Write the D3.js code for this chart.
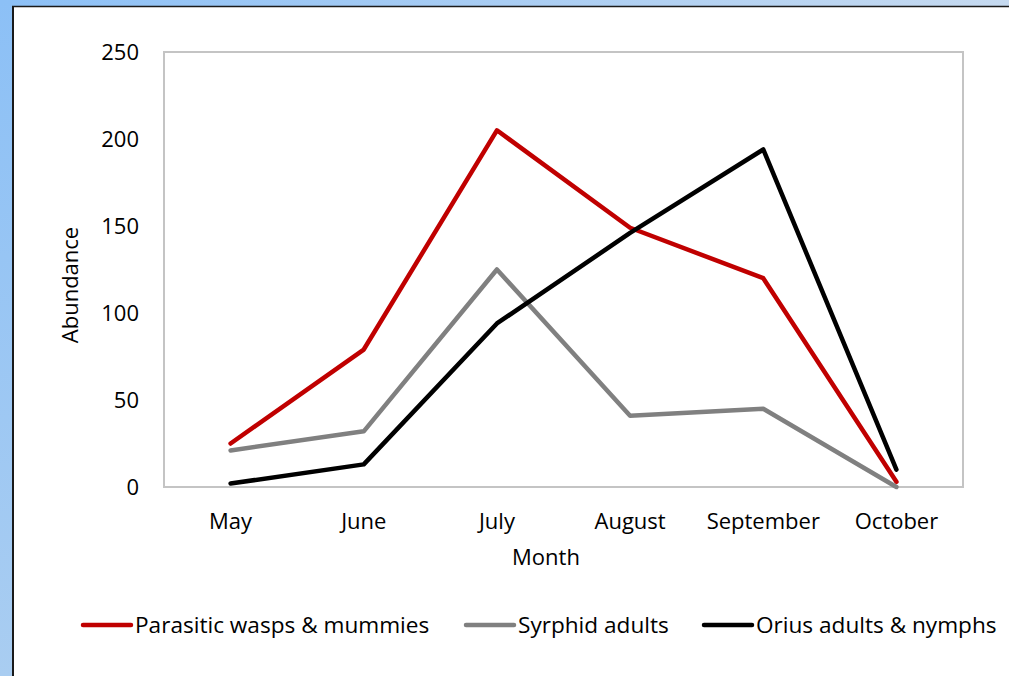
<!DOCTYPE html>
<html>
<head>
<meta charset="utf-8">
<script src="https://cdn.jsdelivr.net/npm/d3@7"></script>
<style>
  body { margin: 0; background: #fff; }
  text { font-family: "Open Sans", Lato, sans-serif; fill: #000; }
</style>
</head>
<body>
<div id="chart"></div>
<script>
// data
var months = ["May", "June", "July", "August", "September", "October"];
var wasps = [25, 79, 205, 149, 120, 3];
var syrphid = [21, 32, 125, 41, 45, 0];
var orius = [2, 13, 94, 146, 194, 10];
var yTicks = [0, 50, 100, 150, 200, 250];
var seriesNames = ["Parasitic wasps & mummies", "Syrphid adults", "Orius adults & nymphs"];
var seriesColors = ["#c00000", "#808080", "#000000"];

var W = 1009, H = 676;
var plot = {left: 164, top: 52, right: 963, bottom: 487};
var font = "'Open Sans', sans-serif";

var svg = d3.select("#chart")
  .append("svg")
    .attr("width", W)
    .attr("height", H);

// window frame (screenshot edges)
var defs = svg.append("defs");
var gl = defs.append("linearGradient").attr("id", "leftg")
  .attr("x1", 0).attr("y1", 0).attr("x2", 0).attr("y2", 1);
gl.append("stop").attr("offset", "0%").attr("stop-color", "#8cc0f6");
gl.append("stop").attr("offset", "100%").attr("stop-color", "#a9cdf1");
var gt = defs.append("linearGradient").attr("id", "topg")
  .attr("x1", 0).attr("y1", 0).attr("x2", 1).attr("y2", 0);
gt.append("stop").attr("offset", "0%").attr("stop-color", "#8cc0f6");
gt.append("stop").attr("offset", "100%").attr("stop-color", "#c6daf0");

svg.append("rect").attr("width", W).attr("height", H).attr("fill", "#fff");
svg.append("rect").attr("x", 0).attr("y", 0).attr("width", W).attr("height", 6).attr("fill", "url(#topg)");
svg.append("rect").attr("x", 0).attr("y", 0).attr("width", 12).attr("height", H).attr("fill", "url(#leftg)");
svg.append("line").attr("x1", 12).attr("x2", W).attr("y1", 6.5).attr("y2", 6.5)
  .attr("stroke", "#1a1a1a").attr("stroke-width", 1.5);
svg.append("line").attr("x1", 13).attr("x2", 13).attr("y1", 6).attr("y2", H)
  .attr("stroke", "#1a1a1a").attr("stroke-width", 2);

var x = d3.scaleBand()
  .domain(months)
  .range([plot.left, plot.right]);

var y = d3.scaleLinear()
  .domain([0, 250])
  .range([plot.bottom, plot.top]);

// plot area border
svg.append("rect")
  .attr("x", plot.left)
  .attr("y", plot.top)
  .attr("width", plot.right - plot.left)
  .attr("height", plot.bottom - plot.top)
  .attr("fill", "none")
  .attr("stroke", "#c4c4c4")
  .attr("stroke-width", 2);

// y axis labels
var yAxis = svg.append("g")
  .attr("transform", "translate(" + plot.left + ",0)")
  .call(d3.axisLeft(y).tickValues(yTicks).tickSize(0).tickPadding(25));
yAxis.select(".domain").remove();
yAxis.selectAll("text")
  .style("font-family", font)
  .style("font-size", "22px")
  .attr("fill", "#000");

// x axis labels
var xAxis = svg.append("g")
  .attr("transform", "translate(0," + plot.bottom + ")")
  .call(d3.axisBottom(x).tickSize(0).tickPadding(26));
xAxis.select(".domain").remove();
xAxis.selectAll("text")
  .style("font-family", font)
  .style("font-size", "22px")
  .attr("fill", "#000");

// axis titles
svg.append("text")
  .attr("transform", "translate(78,285) rotate(-90)")
  .attr("text-anchor", "middle")
  .style("font-size", "22px")
  .text("Abundance");

svg.append("text")
  .attr("x", 546)
  .attr("y", 565)
  .attr("text-anchor", "middle")
  .style("font-size", "22px")
  .text("Month");

// lines
var line = d3.line()
  .x(function(d, i) { return x(months[i]) + x.bandwidth() / 2; })
  .y(function(d) { return y(d); });

[wasps, syrphid, orius].forEach(function(vals, k) {
  svg.append("path")
    .datum(vals)
    .attr("d", line)
    .attr("fill", "none")
    .attr("stroke", seriesColors[k])
    .attr("stroke-width", 4.5)
    .attr("stroke-linecap", "round")
    .attr("stroke-linejoin", "round");
});

// legend
var legendX = [83, 466, 704];
var legend = svg.append("g");
seriesNames.forEach(function(name, k) {
  var g = legend.append("g").attr("transform", "translate(" + legendX[k] + ",625)");
  g.append("line")
    .attr("x1", 0).attr("x2", 48)
    .attr("stroke", seriesColors[k])
    .attr("stroke-width", 4.5)
    .attr("stroke-linecap", "round");
  g.append("text")
    .attr("x", 52)
    .attr("dy", "0.35em")
    .style("font-size", "22.6px")
    .text(name);
});
</script>
</body>
</html>
